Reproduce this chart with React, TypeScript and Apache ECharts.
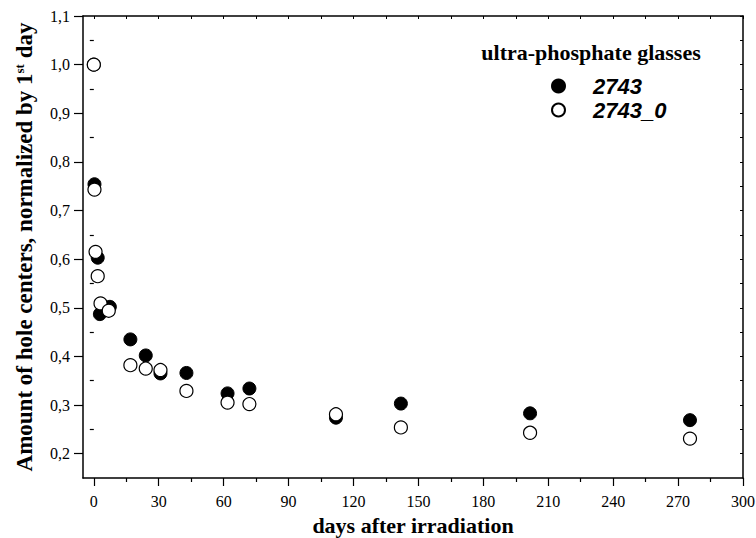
import React, { useEffect, useRef } from "react";
import * as echarts from "echarts";

const seriesNames = ["2743", "2743_0"];
const filledDays = [0, 0.3, 1.8, 2.8, 7.4, 16.9, 24, 30.8, 42.8, 61.8, 71.9, 111.9, 141.9, 201.6, 275.5];
const filledValues = [1.0, 0.754, 0.603, 0.487, 0.502, 0.435, 0.402, 0.365, 0.366, 0.324, 0.334, 0.274, 0.303, 0.283, 0.269];
const openDays = [0, 0.3, 0.8, 1.8, 3.1, 6.9, 16.9, 24, 30.8, 42.8, 61.8, 71.9, 111.9, 141.9, 201.6, 275.5];
const openValues = [1.0, 0.743, 0.615, 0.565, 0.509, 0.494, 0.382, 0.375, 0.372, 0.329, 0.305, 0.302, 0.281, 0.254, 0.243, 0.231];

const xMajorTicks = [0, 30, 60, 90, 120, 150, 180, 210, 240, 270, 300];
const xMinorTicks = [15, 45, 75, 105, 135, 165, 195, 225, 255, 285];
const xTopTicks = [0, 15, 30, 45, 60, 75, 90, 105, 120, 135, 150, 165, 180, 195, 210, 225, 240, 255, 270, 285, 300];
const yMajorTicks = [0.2, 0.3, 0.4, 0.5, 0.6, 0.7, 0.8, 0.9, 1.0, 1.1];
const yMinorTicks = [0.25, 0.35, 0.45, 0.55, 0.65, 0.75, 0.85, 0.95, 1.05];
const yRightTicks = [0.2, 0.25, 0.3, 0.35, 0.4, 0.45, 0.5, 0.55, 0.6, 0.65, 0.7, 0.75, 0.8, 0.85, 0.9, 0.95, 1.0, 1.05, 1.1];

const SERIF = "'Liberation Serif', 'Times New Roman', serif";
const SANS = "'Liberation Sans', Arial, sans-serif";

export default function App() {
  const ref = useRef<HTMLDivElement>(null);
  useEffect(() => {
    if (!ref.current) return;
    const chart = echarts.init(ref.current, null, { renderer: "svg" });
    const black = "#000";
    const xBase = { type: "value", min: -5, max: 300, gridIndex: 0, splitLine: { show: false } };
    const yBase = { type: "value", min: 0.15, max: 1.1, gridIndex: 0, splitLine: { show: false } };
    chart.setOption({
      animation: false,
      backgroundColor: "#fff",
      grid: { left: 83, right: 13, top: 16, bottom: 60, outerBoundsMode: "none", containLabel: false },
      graphic: [
        {
          type: "text",
          x: 591,
          y: 52,
          style: {
            text: "ultra-phosphate glasses",
            fontFamily: SERIF,
            fontWeight: "bold",
            fontSize: 22,
            fill: black,
            textAlign: "center",
            textVerticalAlign: "middle",
          },
        },
      ],
      legend: {
        data: seriesNames,
        orient: "vertical",
        left: 551,
        top: 75,
        padding: 0,
        itemWidth: 13,
        itemHeight: 13,
        itemGap: 2,
        textStyle: {
          fontFamily: SANS,
          fontWeight: "bold",
          fontStyle: "italic",
          fontSize: 22,
          lineHeight: 20,
          color: black,
          padding: [0, 0, 0, 23],
        },
      },
      xAxis: [
        {
          ...xBase,
          position: "bottom",
          axisLine: { show: true, onZero: false, lineStyle: { color: black, width: 1.5 } },
          axisTick: { show: true, length: 8, customValues: xMajorTicks, lineStyle: { color: black, width: 1.2 } },
          axisLabel: {
            customValues: xMajorTicks,
            formatter: (v: number) => String(v),
            fontFamily: SERIF,
            fontSize: 16,
            color: black,
            margin: 15,
          },
          name: "days after irradiation",
          nameLocation: "middle",
          nameGap: 36,
          nameTextStyle: { fontFamily: SERIF, fontWeight: "bold", fontSize: 22, color: black },
        },
        {
          ...xBase,
          position: "bottom",
          axisLine: { show: false },
          axisTick: { show: true, length: 4, customValues: xMinorTicks, lineStyle: { color: black, width: 1.2 } },
          axisLabel: { show: false },
        },
        {
          ...xBase,
          position: "top",
          axisLine: { show: true, onZero: false, lineStyle: { color: black, width: 1.5 } },
          axisTick: { show: true, inside: true, length: 3, customValues: xTopTicks, lineStyle: { color: black, width: 1 } },
          axisLabel: { show: false },
        },
      ],
      yAxis: [
        {
          ...yBase,
          position: "left",
          axisLine: { show: true, onZero: false, lineStyle: { color: black, width: 1.5 } },
          axisTick: { show: true, length: 9, customValues: yMajorTicks, lineStyle: { color: black, width: 1.2 } },
          axisLabel: {
            customValues: yMajorTicks,
            formatter: (v: number) => v.toFixed(1).replace(".", ","),
            fontFamily: SERIF,
            fontSize: 16,
            color: black,
            margin: 13,
          },
          name: "{a|Amount of hole centers, normalized by 1}{sup|st}{a| day}",
          nameLocation: "middle",
          nameGap: 47,
          nameTextStyle: {
            fontFamily: SERIF,
            fontWeight: "bold",
            fontSize: 23,
            color: black,
            rich: {
              a: {
                fontFamily: SERIF,
                fontWeight: "bold",
                fontSize: 23,
                color: black,
              },
              sup: {
                fontFamily: SERIF,
                fontWeight: "bold",
                fontSize: 13,
                color: black,
                verticalAlign: "top",
                padding: [0, 0, 10, 0],
              },
            },
          },
        },
        {
          ...yBase,
          position: "left",
          axisLine: { show: false },
          axisTick: { show: true, length: 4, customValues: yMinorTicks, lineStyle: { color: black, width: 1.2 } },
          axisLabel: { show: false },
        },
        {
          ...yBase,
          position: "right",
          axisLine: { show: true, onZero: false, lineStyle: { color: black, width: 1.5 } },
          axisTick: { show: true, inside: true, length: 3, customValues: yRightTicks, lineStyle: { color: black, width: 1 } },
          axisLabel: { show: false },
        },
      ],
      series: [
        {
          name: seriesNames[0],
          type: "scatter",
          xAxisIndex: 0,
          yAxisIndex: 0,
          symbol: "circle",
          symbolSize: 13,
          z: 2,
          itemStyle: { color: black, borderColor: black, borderWidth: 1, opacity: 1 },
          data: filledDays.map((d, i) => [d, filledValues[i]]),
        },
        {
          name: seriesNames[1],
          type: "scatter",
          xAxisIndex: 0,
          yAxisIndex: 0,
          symbol: "circle",
          symbolSize: 13,
          z: 3,
          itemStyle: { color: "#fff", borderColor: black, borderWidth: 1.2, opacity: 1 },
          data: openDays.map((d, i) => [d, openValues[i]]),
        },
      ],
    });
    return () => chart.dispose();
  }, []);
  return (
    <div
      ref={ref}
      style={{ position: "absolute", left: 0, top: 0, width: 756, height: 538, background: "#fff" }}
    />
  );
}
